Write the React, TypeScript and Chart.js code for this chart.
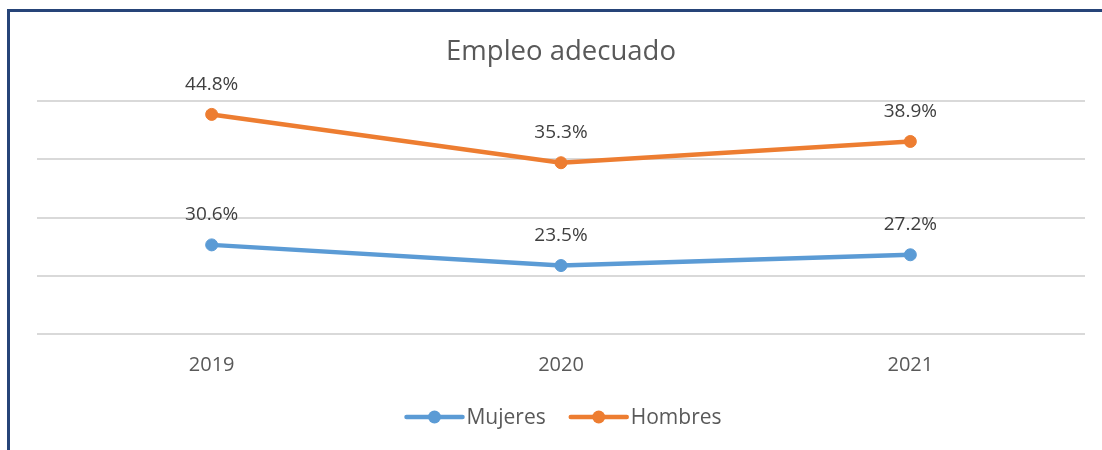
import React, { useEffect, useRef } from "react";
import { Chart, registerables } from "chart.js";

Chart.register(...registerables);

const categories = ["2019", "2020", "2021"];
const mujeres = [30.6, 23.5, 27.2];
const hombres = [44.8, 35.3, 38.9];
const seriesNames = ["Mujeres", "Hombres"];
const seriesColors = ["#5B9BD5", "#ED7D31"];
const titleText = "Empleo adecuado";
const yMin = 0;
const yMax = 80;
const yStep = 20;

const FONT = "'Open Sans', 'Liberation Sans', sans-serif";

const extrasPlugin = {
  id: "extras",
  beforeDraw(chart: any) {
    const ctx = chart.ctx;
    ctx.save();
    ctx.fillStyle = "#ffffff";
    ctx.fillRect(0, 0, chart.width, chart.height);
    ctx.strokeStyle = "#264478";
    ctx.lineWidth = 3;
    ctx.beginPath();
    ctx.moveTo(8.5, chart.height + 5);
    ctx.lineTo(8.5, 10.5);
    ctx.lineTo(chart.width + 5, 10.5);
    ctx.stroke();
    ctx.restore();
  },
  afterDatasetsDraw(chart: any) {
    const ctx = chart.ctx;
    ctx.save();
    ctx.font = `19px ${FONT}`;
    ctx.fillStyle = "#404040";
    ctx.textAlign = "center";
    ctx.textBaseline = "middle";
    chart.data.datasets.forEach((ds: any, i: number) => {
      const meta = chart.getDatasetMeta(i);
      meta.data.forEach((el: any, j: number) => {
        const v = ds.data[j] as number;
        ctx.fillText(`${v.toFixed(1)}%`, el.x, el.y - 30);
      });
    });
    ctx.restore();
  },
  afterDraw(chart: any) {
    const ctx = chart.ctx;
    ctx.save();
    ctx.font = `21px ${FONT}`;
    const lineLen = 56;
    const gap = 4;
    const itemGap = 25;
    const widths = seriesNames.map((n) => lineLen + gap + ctx.measureText(n).width);
    const total = widths.reduce((a, b) => a + b, 0) + itemGap * (seriesNames.length - 1);
    const cx = (chart.chartArea.left + chart.chartArea.right) / 2 + 3;
    let x = cx - total / 2;
    const y = 417;
    seriesNames.forEach((n, i) => {
      ctx.strokeStyle = seriesColors[i];
      ctx.lineWidth = 4.5;
      ctx.lineCap = "round";
      ctx.beginPath();
      ctx.moveTo(x, y);
      ctx.lineTo(x + lineLen, y);
      ctx.stroke();
      ctx.fillStyle = seriesColors[i];
      ctx.beginPath();
      ctx.arc(x + lineLen / 2, y, 6.5, 0, Math.PI * 2);
      ctx.fill();
      ctx.fillStyle = "#595959";
      ctx.textAlign = "left";
      ctx.textBaseline = "middle";
      ctx.fillText(n, x + lineLen + gap, y + 1);
      x += widths[i] + itemGap;
    });
    ctx.restore();
  },
};

export default function App() {
  const ref = useRef<HTMLCanvasElement | null>(null);

  useEffect(() => {
    if (!ref.current) return;
    const chart = new Chart(ref.current, {
      type: "line",
      data: {
        labels: categories,
        datasets: [
          {
            label: seriesNames[0],
            data: mujeres,
            borderColor: seriesColors[0],
            backgroundColor: seriesColors[0],
            borderWidth: 4.5,
            pointRadius: 6,
            pointBorderWidth: 1,
            pointBackgroundColor: seriesColors[0],
            pointBorderColor: seriesColors[0],
            tension: 0,
            fill: false,
          },
          {
            label: seriesNames[1],
            data: hombres,
            borderColor: seriesColors[1],
            backgroundColor: seriesColors[1],
            borderWidth: 4.5,
            pointRadius: 6,
            pointBorderWidth: 1,
            pointBackgroundColor: seriesColors[1],
            pointBorderColor: seriesColors[1],
            tension: 0,
            fill: false,
          },
        ],
      },
      options: {
        animation: false,
        responsive: false,
        layout: { padding: { left: 37, right: 17, top: 0, bottom: 66 } },
        plugins: {
          legend: { display: false },
          tooltip: { enabled: false },
          title: {
            display: true,
            text: titleText,
            color: "#595959",
            font: { family: FONT, size: 27.5, weight: "normal" },
            padding: { top: 36, bottom: 32 },
          },
        },
        scales: {
          x: {
            offset: true,
            grid: { display: false, drawTicks: false },
            border: { display: false },
            ticks: {
              color: "#595959",
              font: { family: FONT, size: 20 },
              padding: 19,
            },
            afterFit: (s: any) => {
              s.height = 50;
            },
          },
          y: {
            stacked: true,
            min: yMin,
            max: yMax,
            grid: { color: "#d9d9d9", lineWidth: 2, drawTicks: false },
            border: { display: false },
            ticks: { display: false, stepSize: yStep },
            afterFit: (s: any) => {
              s.width = 0;
            },
          },
        },
      },
      plugins: [extrasPlugin],
    });
    return () => chart.destroy();
  }, []);

  return (
    <div style={{ position: "fixed", left: 0, top: 0, width: 1102, height: 450, background: "#fff" }}>
      <canvas ref={ref} width={1102} height={450} style={{ display: "block" }} />
    </div>
  );
}
